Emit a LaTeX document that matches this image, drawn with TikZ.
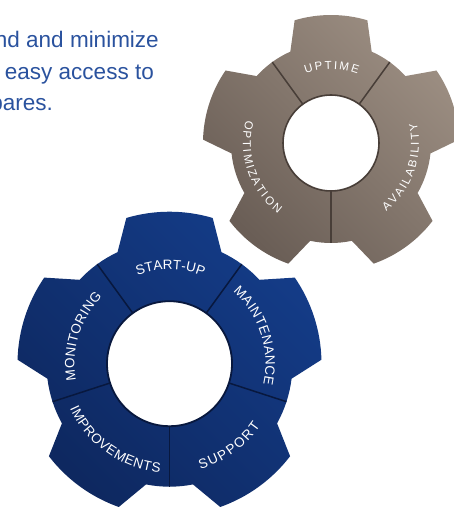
\documentclass[tikz,border=0pt]{standalone}
\usepackage{fontspec}
\setmainfont{Liberation Sans}
\setsansfont{Liberation Sans}
\usetikzlibrary{decorations.text}
\definecolor{bluelight}{RGB}{20,60,136}
\definecolor{bluedark}{RGB}{14,40,96}
\definecolor{blueline}{RGB}{8,24,62}
\definecolor{brownlight}{RGB}{156,142,130}
\definecolor{browndark}{RGB}{106,94,86}
\definecolor{brownline}{RGB}{72,62,56}
\definecolor{introblue}{RGB}{42,82,158}
\newcommand{\bluefont}{\fontsize{13.5}{13.5}\selectfont}
\newcommand{\brownfont}{\fontsize{11.5}{11.5}\selectfont}
\begin{document}
\begin{tikzpicture}[x=1pt,y=1pt,
  introtext/.style={anchor=base east, text=introblue, font=\fontsize{22.5}{26}\selectfont, inner sep=0pt},
  arclabel/.style={decorate, decoration={text along path, text color=white, text align={fit to path}, text={#1}}},
  bluehole/.style={draw=blueline, line width=1.8, fill=white},
  brownhole/.style={draw=brownline, line width=1.6, fill=white},
  bluediv/.style={draw=blueline, line width=1.5},
  browndiv/.style={draw=brownline, line width=1.5}
]
\useasboundingbox (0,0) rectangle (454,511);

% intro text
\node[introtext] (l1) at (159,463) {nd and minimize};
\node[introtext] (l2) at (154,431) {easy access to};
\node[introtext] (l3) at (53,400) {pares.};

% brown gear
\coordinate (bc) at (331,368);
\begin{scope}[shift={(bc)}]
  \shade[top color=brownlight, bottom color=browndark, shading angle=-45]
    (-6:100) \foreach \k in {0,...,4}{
      -- ({18+72*\k-16.5}:128) arc[start angle={18+72*\k-16.5}, end angle={18+72*\k+16.5}, radius=128]
      -- ({18+72*\k+24}:100) arc[start angle={18+72*\k+24}, end angle={18+72*\k+48}, radius=100]
    } -- cycle;
  \foreach \a in {54,126,270}{
    \draw[browndiv] (\a:48) -- (\a:100);
  }
  \path[brownhole] (0,0) circle[radius=48];
  \path[arclabel={|\brownfont|UPTIME}] (110:74) arc[start angle=110, end angle=69, radius=74];
  \path[arclabel={|\brownfont|OPTIMIZATION}] (165:88) arc[start angle=165, end angle=233, radius=88];
  \path[arclabel={|\brownfont|AVAILABILITY}] (-51:88) arc[start angle=-51, end angle=13, radius=88];
\end{scope}

% blue gear
\coordinate (gc) at (169.5,147.3);
\begin{scope}[shift={(gc)}]
  \shade[top color=bluelight, bottom color=bluedark, shading angle=-45]
    (-7:123) \foreach \k in {0,...,4}{
      -- ({18+72*\k-16.5}:152) arc[start angle={18+72*\k-16.5}, end angle={18+72*\k+16.5}, radius=152]
      -- ({18+72*\k+25}:123) arc[start angle={18+72*\k+25}, end angle={18+72*\k+47}, radius=123]
    } -- cycle;
  \foreach \a in {54,126,198,270,342}{
    \draw[bluediv] (\a:62.5) -- (\a:123);
  }
  \path[bluehole] (0,0) circle[radius=62.5];
  \path[arclabel={|\bluefont|START-UP}] (110:94) arc[start angle=110, end angle=70, radius=94];
  \path[arclabel={|\bluefont|MAINTENANCE}] (48.5:96) arc[start angle=48.5, end angle=-12.5, radius=96];
  \path[arclabel={|\bluefont|MONITORING}] (190:95) arc[start angle=190, end angle=135, radius=95];
  \path[arclabel={|\bluefont|SUPPORT}] (-73.7:110) arc[start angle=-73.7, end angle=-34.5, radius=110];
  \path[arclabel={|\bluefont|IMPROVEMENTS}] (204:109) arc[start angle=204, end angle=265, radius=109];
\end{scope}
\end{tikzpicture}
\end{document}
